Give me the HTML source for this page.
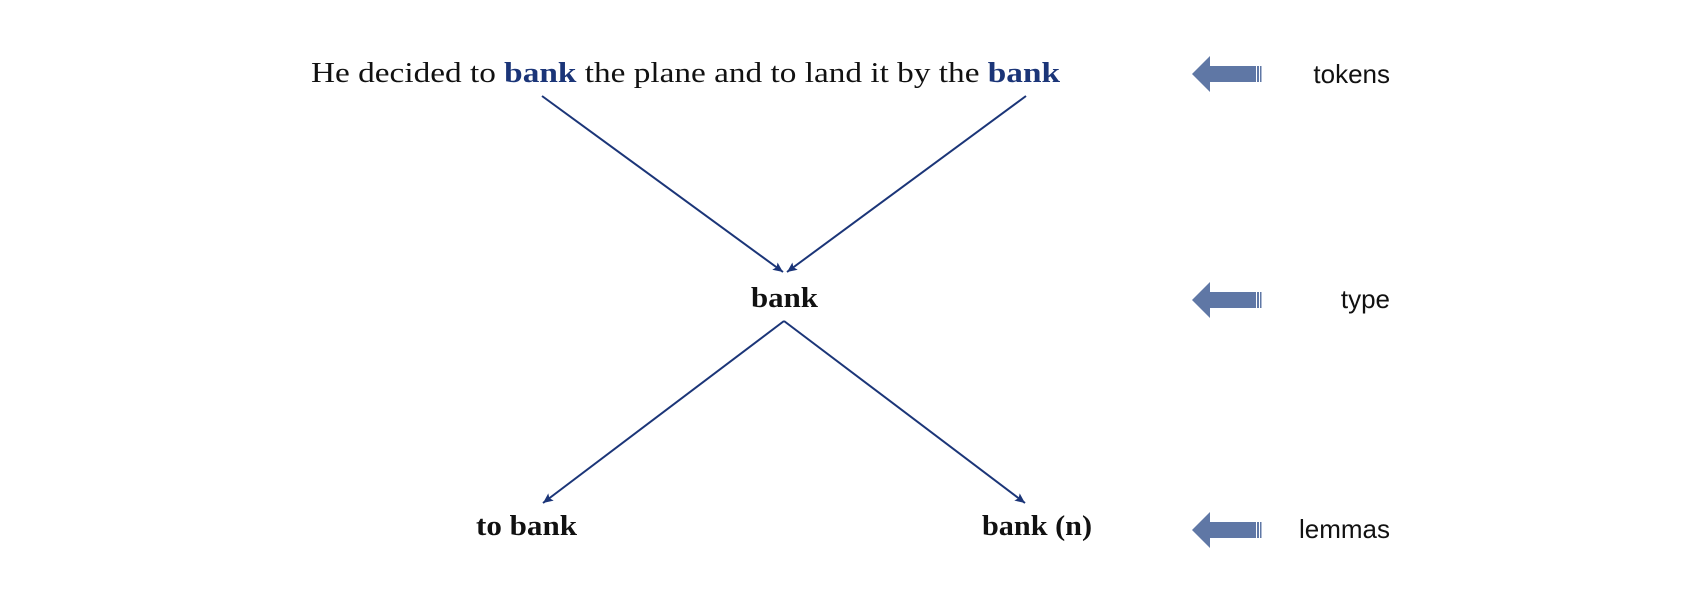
<!DOCTYPE html>
<html><head><meta charset="utf-8"><style>
html,body{margin:0;padding:0;background:#fff;}
svg{display:block;}
.s{font-family:"Liberation Serif",serif;font-size:29px;fill:#111;}
.b{font-weight:bold;}
.l{font-family:"Liberation Sans",sans-serif;font-size:26px;fill:#111;}
</style></head><body>
<svg width="1700" height="600" viewBox="0 0 1700 600">
<defs>
<marker id="ah" viewBox="0 0 10 10" refX="10" refY="5" markerWidth="18" markerHeight="10" markerUnits="userSpaceOnUse" orient="auto">
<path d="M0,0.5 L10,5 L0,9.5 L2,5 z" fill="#1b3578"/>
</marker>
<g id="bigarrow">
<path d="M0,0 L18,-18 L18,-8 L64,-8 L64,8 L18,8 L18,18 z" fill="#5f77a5"/>
<rect x="65" y="-8" width="2" height="16" fill="#5f77a5"/>
<rect x="68" y="-8" width="1.5" height="16" fill="#5f77a5"/>
</g>
</defs>
<text class="s" x="311" y="82" textLength="749" lengthAdjust="spacingAndGlyphs">He decided to <tspan class="b" fill="#1b3578">bank</tspan> the plane and to land it by the <tspan class="b" fill="#1b3578">bank</tspan></text>
<g stroke="#1b3578" stroke-width="2" fill="none">
<line x1="542" y1="96" x2="783" y2="272" marker-end="url(#ah)"/>
<line x1="1026" y1="96" x2="787" y2="272" marker-end="url(#ah)"/>
<line x1="784" y1="321" x2="543" y2="503" marker-end="url(#ah)"/>
<line x1="784" y1="321" x2="1025" y2="503" marker-end="url(#ah)"/>
</g>
<text class="s b" x="751" y="307" textLength="67" lengthAdjust="spacingAndGlyphs">bank</text>
<text class="s b" x="476" y="535" textLength="101" lengthAdjust="spacingAndGlyphs">to bank</text>
<text class="s b" x="982" y="535" textLength="110" lengthAdjust="spacingAndGlyphs">bank (n)</text>
<use href="#bigarrow" x="1192" y="74"/>
<use href="#bigarrow" x="1192" y="300"/>
<use href="#bigarrow" x="1192" y="530"/>
<text class="l" x="1390" y="83" text-anchor="end">tokens</text>
<text class="l" x="1390" y="308" text-anchor="end">type</text>
<text class="l" x="1390" y="538" text-anchor="end">lemmas</text>
</svg>
</body></html>
